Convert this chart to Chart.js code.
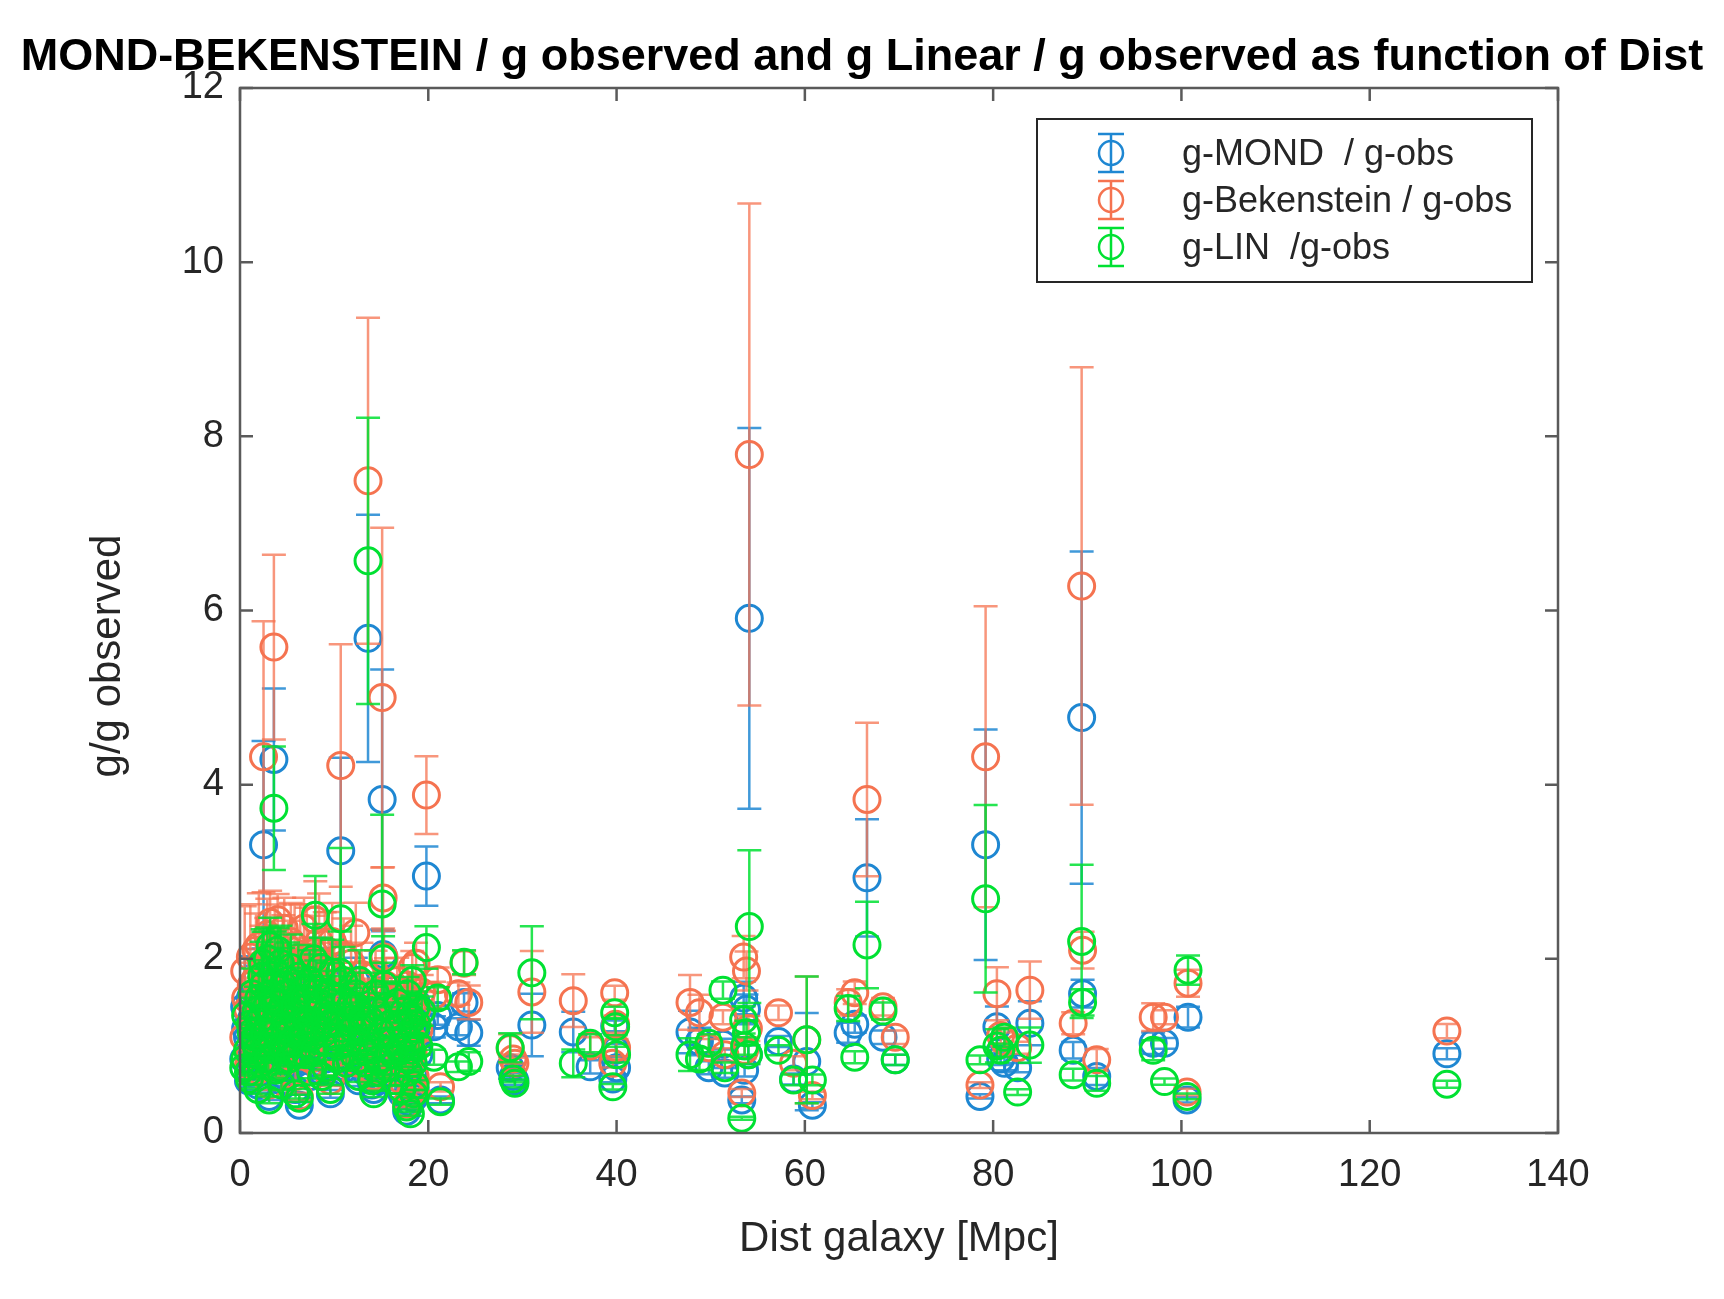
<!DOCTYPE html>
<html>
<head>
<meta charset="utf-8">
<title>MOND-BEKENSTEIN / g observed</title>
<script src="https://cdn.jsdelivr.net/npm/chart.js@4.4.1/dist/chart.umd.min.js"></script>
<style>
    html, body { margin: 0; padding: 0; background: #fff; }
    #chart-g-ratio { display: block; }
</style>
</head>
<body>
<canvas id="chart-g-ratio" width="1724" height="1299"></canvas>
<script>
// one entry per galaxy, same order in every array
// (last block: more galaxies of the crowded 0-20 Mpc group)
const dist = [
    0.4, 0.5, 0.8, 1.0, 1.2, 1.5, 1.7, 1.9, 2.1, 2.3,
    2.5, 2.7, 2.9, 3.1, 3.3, 3.5, 3.6, 3.8, 4.0, 4.2,
    4.4, 4.6, 4.8, 5.0, 5.2, 5.4, 5.7, 5.9, 6.1, 6.3,
    6.5, 6.8, 7.0, 7.2, 7.5, 7.8, 8.0, 8.2, 8.5, 8.7,
    9.0, 9.3, 9.6, 9.8, 10.2, 10.5, 10.7, 11.0, 11.3, 11.7,
    12.0, 12.3, 12.6, 12.9, 13.2, 13.5, 13.6, 14.0, 14.2, 14.5,
    14.8, 15.1, 15.2, 15.3, 15.6, 15.9, 16.3, 16.7, 17.2, 17.5,
    17.7, 17.8, 17.9, 18.0, 18.1, 18.2, 18.3, 18.4, 18.5, 18.6,
    18.7, 19.0, 19.3, 19.8,
    20.6, 21.0, 21.3, 23.2, 23.8, 24.3, 28.7, 29.0, 29.2, 31.0,
    35.4, 37.2, 39.6, 39.8, 39.9, 40.0, 47.8, 48.8, 49.8, 51.3,
    51.5, 53.3, 53.5, 53.6, 53.8, 54.0, 54.1, 57.2, 58.8, 60.2,
    60.8, 64.6, 65.3, 66.6, 68.3, 69.6, 78.6, 79.2, 80.4, 80.8,
    81.2, 82.6, 83.9, 88.5, 89.4, 89.5, 91.0, 97.0, 98.2, 100.6,
    100.7, 128.2,
    0.6, 0.9, 1.1, 1.3, 1.6, 1.8, 2.0, 2.2, 2.4, 2.6,
    2.8, 3.0, 3.2, 3.4, 3.7, 3.9, 4.1, 4.3, 4.5, 4.7,
    4.9, 5.1, 5.3, 5.5, 5.8, 6.0, 6.2, 6.4, 6.7, 6.9,
    7.1, 7.4, 7.6, 7.9, 8.1, 8.4, 8.6, 8.9, 9.1, 9.4,
    9.7, 10.0, 10.3, 10.6, 10.9, 11.2, 11.5, 11.8, 12.1, 12.4,
    12.7, 13.0, 13.3, 13.8, 14.1, 14.4, 14.7, 15.0, 15.5, 15.8,
    16.1, 16.5, 16.9, 17.1, 17.4, 17.6, 18.05, 18.25, 18.45, 18.8
];

const gMond = [
    0.85, 1.45, 1.10, 0.70, 1.30, 0.95, 1.60, 0.55, 1.25, 1.50,
    3.31, 0.90, 1.75, 0.42, 1.10, 1.40, 4.29, 0.80, 1.90, 1.20,
    0.60, 1.55, 1.00, 1.35, 0.75, 1.70, 1.15, 0.50, 1.45, 0.32,
    1.05, 1.80, 0.85, 1.25, 0.65, 1.60, 1.90, 1.00, 1.35, 0.70,
    1.50, 1.10, 0.45, 1.70, 1.20, 0.90, 3.24, 1.55, 0.75, 1.30,
    1.05, 1.75, 0.60, 1.40, 0.85, 1.15, 5.68, 0.55, 0.50, 1.25,
    0.90, 3.83, 2.05, 1.55, 0.70, 1.10, 0.80, 1.35, 0.45, 1.00,
    0.25, 1.30, 0.60, 1.15, 0.35, 0.85, 1.45, 0.70, 1.05, 0.50,
    1.50, 0.90, 1.25, 2.95,
    1.22, 1.35, 0.38, 1.22, 1.50, 1.15, 0.75, 0.65, 0.60, 1.24,
    1.16, 0.76, 0.62, 1.23, 0.95, 0.75, 1.16, 1.05, 0.75, 1.02,
    0.69, 0.38, 1.55, 0.72, 1.42, 0.90, 5.91, 1.05, 0.62, 0.82,
    0.32, 1.15, 1.25, 2.93, 1.10, 0.84, 0.42, 3.31, 1.22, 0.85,
    0.80, 0.75, 1.26, 0.95, 4.77, 1.60, 0.65, 1.03, 1.03, 0.38,
    1.33, 0.91,
    1.20, 0.60, 1.55, 0.95, 1.35, 0.85, 1.65, 0.70, 1.30, 1.05,
    1.45, 0.75, 1.85, 1.00, 1.60, 1.25, 0.65, 1.45, 1.10, 1.80,
    0.85, 1.50, 1.25, 0.95, 1.65, 0.80, 1.30, 1.55, 0.95, 1.20,
    1.55, 1.00, 1.35, 0.80, 1.25, 1.70, 1.05, 1.30, 0.85, 1.60,
    1.00, 1.40, 0.70, 1.35, 1.00, 1.20, 0.95, 1.50, 0.80, 1.20,
    1.00, 1.30, 0.70, 1.10, 0.80, 1.40, 0.60, 1.05, 1.30, 0.85,
    1.20, 0.55, 1.05, 0.85, 1.25, 0.70, 0.95, 1.20, 0.40, 1.10
];

const gBek = [
    1.10, 1.86, 1.42, 0.90, 1.70, 1.25, 2.10, 0.72, 1.62, 1.95,
    4.32, 1.18, 2.28, 0.55, 1.45, 1.82, 5.58, 1.05, 2.45, 1.55,
    0.78, 2.00, 1.30, 1.75, 0.98, 2.20, 1.50, 0.65, 1.90, 0.42,
    1.38, 2.35, 1.10, 1.62, 0.85, 2.08, 2.45, 1.30, 1.75, 0.92,
    1.95, 1.42, 0.60, 2.20, 1.58, 1.18, 4.22, 2.02, 0.98, 1.70,
    1.38, 2.30, 0.80, 1.82, 1.10, 1.50, 7.49, 0.72, 0.65, 1.62,
    1.18, 5.00, 2.70, 2.02, 0.92, 1.45, 1.05, 1.75, 0.60, 1.30,
    0.33, 1.70, 0.80, 1.50, 0.45, 1.10, 1.90, 0.92, 1.38, 0.65,
    1.95, 1.18, 1.62, 3.88,
    1.58, 1.76, 0.53, 1.60, 1.95, 1.50, 0.97, 0.85, 0.80, 1.62,
    1.52, 1.00, 0.80, 1.61, 1.25, 0.98, 1.50, 1.38, 0.98, 1.33,
    0.90, 0.46, 2.02, 0.95, 1.86, 1.20, 7.79, 1.38, 0.80, 1.07,
    0.43, 1.50, 1.61, 3.83, 1.45, 1.10, 0.55, 4.32, 1.60, 1.12,
    1.05, 0.98, 1.64, 1.26, 6.28, 2.10, 0.84, 1.33, 1.33, 0.47,
    1.72, 1.17,
    1.55, 0.78, 2.02, 1.24, 1.76, 1.10, 2.15, 0.92, 1.70, 1.38,
    1.90, 0.98, 2.42, 1.30, 2.10, 1.62, 0.85, 1.88, 1.43, 2.35,
    1.10, 1.95, 1.62, 1.24, 2.15, 1.05, 1.70, 2.02, 1.24, 1.56,
    2.02, 1.30, 1.76, 1.05, 1.62, 2.20, 1.38, 1.70, 1.10, 2.08,
    1.30, 1.82, 0.92, 1.76, 1.30, 1.56, 1.24, 1.95, 1.05, 1.56,
    1.30, 1.70, 0.92, 1.43, 1.05, 1.82, 0.80, 1.38, 1.70, 1.10,
    1.56, 0.72, 1.38, 1.10, 1.62, 0.92, 1.24, 1.56, 0.52, 1.43
];

const gLin = [
    0.75, 0.85, 0.95, 0.62, 1.15, 1.05, 1.40, 0.50, 1.30, 1.80,
    1.70, 1.00, 2.00, 0.38, 1.60, 1.25, 3.73, 0.72, 2.10, 1.40,
    0.55, 1.70, 1.20, 0.95, 0.85, 1.90, 1.35, 0.45, 1.55, 0.40,
    1.10, 1.65, 0.90, 1.45, 0.70, 2.00, 2.50, 1.20, 1.50, 0.65,
    1.30, 1.25, 0.50, 1.85, 1.10, 1.00, 2.46, 1.75, 0.80, 1.45,
    1.20, 1.60, 0.65, 1.30, 0.95, 1.05, 6.57, 0.60, 0.45, 1.40,
    0.85, 2.63, 2.00, 1.70, 0.75, 1.25, 0.90, 1.50, 0.50, 1.10,
    0.30, 1.60, 0.70, 1.35, 0.22, 0.95, 1.75, 0.80, 1.20, 0.55,
    1.45, 1.00, 1.40, 2.13,
    0.87, 1.55, 0.36, 0.76, 1.96, 0.82, 0.98, 0.62, 0.57, 1.84,
    0.80, 1.03, 0.53, 1.38, 1.22, 0.90, 0.90, 0.85, 1.03, 1.64,
    0.75, 0.17, 1.30, 1.00, 1.15, 0.90, 2.37, 0.95, 0.61, 1.07,
    0.61, 1.43, 0.87, 2.16, 1.40, 0.84, 0.84, 2.69, 1.00, 0.95,
    1.10, 0.47, 1.01, 0.67, 2.20, 1.50, 0.57, 0.95, 0.59, 0.42,
    1.87, 0.56,
    1.35, 0.70, 1.25, 1.60, 1.10, 0.95, 1.55, 0.80, 1.95, 1.15,
    1.45, 0.85, 2.15, 1.05, 1.85, 1.50, 0.75, 1.95, 1.00, 1.60,
    1.30, 1.75, 1.15, 1.05, 1.45, 0.90, 1.80, 1.25, 1.15, 1.55,
    1.30, 1.75, 1.10, 0.95, 1.65, 1.40, 1.90, 1.15, 0.75, 1.60,
    1.35, 1.55, 0.85, 1.85, 1.20, 1.50, 1.05, 1.30, 0.90, 1.45,
    1.75, 1.20, 0.80, 1.30, 0.95, 1.60, 0.70, 1.15, 1.45, 0.95,
    1.05, 0.60, 1.25, 0.95, 1.40, 0.85, 1.05, 1.30, 0.45, 1.25
];

// relative error of each galaxy (same for the three ratios)
const relErr = [
    0.12, 0.40, 0.20, 0.10, 0.15, 0.18, 0.20, 0.10, 0.25, 0.22,
    0.36, 0.15, 0.18, 0.10, 0.20, 0.30, 0.19, 0.12, 0.12, 0.20,
    0.10, 0.25, 0.15, 0.18, 0.10, 0.20, 0.22, 0.12, 0.18, 0.10,
    0.20, 0.15, 0.12, 0.25, 0.10, 0.20, 0.18, 0.15, 0.20, 0.12,
    0.30, 0.15, 0.10, 0.20, 0.18, 0.12, 0.33, 0.22, 0.10, 0.15,
    0.25, 0.15, 0.10, 0.20, 0.12, 0.18, 0.25, 0.10, 0.08, 0.20,
    0.15, 0.39, 0.13, 0.15, 0.10, 0.20, 0.12, 0.15, 0.10, 0.10,
    0.10, 0.12, 0.08, 0.10, 0.10, 0.10, 0.10, 0.10, 0.08, 0.10,
    0.12, 0.10, 0.12, 0.115,
    0.10, 0.08, 0.10, 0.08, 0.07, 0.13, 0.17, 0.06, 0.08, 0.29,
    0.20, 0.10, 0.06, 0.05, 0.08, 0.10, 0.21, 0.15, 0.10, 0.06,
    0.08, 0.10, 0.12, 0.10, 0.12, 0.12, 0.37, 0.06, 0.10, 0.68,
    0.10, 0.10, 0.08, 0.23, 0.07, 0.07, 0.06, 0.40, 0.19, 0.08,
    0.10, 0.07, 0.20, 0.10, 0.40, 0.10, 0.15, 0.12, 0.06, 0.08,
    0.09, 0.07,
    0.15, 0.12, 0.30, 0.18, 0.20, 0.15, 0.28, 0.12, 0.20, 0.25,
    0.30, 0.15, 0.15, 0.20, 0.25, 0.30, 0.10, 0.22, 0.18, 0.15,
    0.20, 0.25, 0.20, 0.15, 0.22, 0.12, 0.20, 0.30, 0.15, 0.20,
    0.28, 0.20, 0.25, 0.15, 0.20, 0.25, 0.18, 0.20, 0.12, 0.22,
    0.18, 0.20, 0.12, 0.25, 0.18, 0.20, 0.15, 0.22, 0.12, 0.18,
    0.20, 0.15, 0.12, 0.18, 0.12, 0.15, 0.10, 0.15, 0.18, 0.12,
    0.15, 0.10, 0.12, 0.10, 0.10, 0.10, 0.08, 0.08, 0.10, 0.10
];

const seriesLabels = ['g-MOND  / g-obs', 'g-Bekenstein / g-obs', 'g-LIN  /g-obs'];
const xTicks = [0, 20, 40, 60, 80, 100, 120, 140];
const yTicks = [0, 2, 4, 6, 8, 10, 12];

const colMond = 'rgb(30, 135, 210)';
const colBek = 'rgb(245, 115, 80)';
const colLin = 'rgb(0, 225, 50)';
const barMond = 'rgba(30, 135, 210, 0.85)';
const barBek = 'rgba(245, 115, 80, 0.75)';
const barLin = 'rgba(0, 225, 50, 0.85)';
const axisColor = 'rgb(90, 90, 90)';
const textColor = '#262626';
const fontFamily = 'Arial, "Liberation Sans", Helvetica, sans-serif';

const chartElement = document.getElementById('chart-g-ratio');
let chartRatio;

function makePoints(values) {
    return dist.map(function (d, i) {
        return { x: d, y: values[i], err: values[i] * relErr[i] };
    });
}

// vertical error bars, drawn just before the markers of the same series
const errorBarPlugin = {
    id: 'errorBars',
    beforeDatasetDraw(chart, args) {
        const ds = chart.data.datasets[args.index];
        const yScale = chart.scales.y;
        const ctx = chart.ctx;
        const area = chart.chartArea;
        const cap = 12;
        ctx.save();
        ctx.beginPath();
        ctx.rect(area.left, area.top, area.right - area.left, area.bottom - area.top);
        ctx.clip();
        ctx.strokeStyle = ds.barColor;
        ctx.lineWidth = 2.5;
        args.meta.data.forEach(function (pt, i) {
            const d = ds.data[i];
            const top = yScale.getPixelForValue(d.y + d.err);
            const bottom = yScale.getPixelForValue(d.y - d.err);
            ctx.beginPath();
            ctx.moveTo(pt.x, top);
            ctx.lineTo(pt.x, bottom);
            ctx.moveTo(pt.x - cap, top);
            ctx.lineTo(pt.x + cap, top);
            ctx.moveTo(pt.x - cap, bottom);
            ctx.lineTo(pt.x + cap, bottom);
            ctx.stroke();
        });
        ctx.restore();
    }
};

// matlab style box with inward ticks, y title and boxed legend
const axesBoxPlugin = {
    id: 'axesBox',
    afterDatasetsDraw(chart) {
        const ctx = chart.ctx;
        const a = chart.chartArea;
        const xs = chart.scales.x;
        const ys = chart.scales.y;
        const tickLen = 13;
        ctx.save();
        ctx.strokeStyle = axisColor;
        ctx.lineWidth = 2.5;
        ctx.strokeRect(a.left, a.top, a.right - a.left, a.bottom - a.top);
        ctx.beginPath();
        xTicks.forEach(function (v) {
            const px = xs.getPixelForValue(v);
            ctx.moveTo(px, a.bottom);
            ctx.lineTo(px, a.bottom - tickLen);
            ctx.moveTo(px, a.top);
            ctx.lineTo(px, a.top + tickLen);
        });
        yTicks.forEach(function (v) {
            const py = ys.getPixelForValue(v);
            ctx.moveTo(a.left, py);
            ctx.lineTo(a.left + tickLen, py);
            ctx.moveTo(a.right, py);
            ctx.lineTo(a.right - tickLen, py);
        });
        ctx.stroke();
        ctx.restore();
    },
    afterDraw(chart) {
        const ctx = chart.ctx;
        const a = chart.chartArea;

        ctx.save();
        ctx.translate(108, 656);
        ctx.rotate(-Math.PI / 2);
        ctx.font = '42px ' + fontFamily;
        ctx.fillStyle = textColor;
        ctx.textAlign = 'center';
        ctx.textBaseline = 'middle';
        ctx.fillText('g/g observed', 0, 0);
        ctx.restore();

        const boxW = 495, boxH = 163;
        const bx = a.right - 26 - boxW;
        const by = a.top + 31;
        const colors = [colMond, colBek, colLin];
        ctx.save();
        ctx.fillStyle = '#fff';
        ctx.fillRect(bx, by, boxW, boxH);
        ctx.strokeStyle = textColor;
        ctx.lineWidth = 2;
        ctx.strokeRect(bx, by, boxW, boxH);
        ctx.font = '36px ' + fontFamily;
        ctx.textBaseline = 'middle';
        ctx.textAlign = 'left';
        seriesLabels.forEach(function (label, i) {
            const cy = by + 34 + i * 47;
            const cx = bx + 74;
            ctx.strokeStyle = colors[i];
            ctx.lineWidth = 2.5;
            ctx.beginPath();
            ctx.moveTo(cx, cy - 19);
            ctx.lineTo(cx, cy + 19);
            ctx.moveTo(cx - 13, cy - 19);
            ctx.lineTo(cx + 13, cy - 19);
            ctx.moveTo(cx - 13, cy + 19);
            ctx.lineTo(cx + 13, cy + 19);
            ctx.stroke();
            ctx.beginPath();
            ctx.arc(cx, cy, 12, 0, Math.PI * 2);
            ctx.stroke();
            ctx.fillStyle = textColor;
            ctx.fillText(label, bx + 145, cy + 2);
        });
        ctx.restore();
    }
};

function makeDataset(label, values, color, barColor, order) {
    return {
        label: label,
        data: makePoints(values),
        borderColor: color,
        backgroundColor: 'rgba(0,0,0,0)',
        barColor: barColor,
        pointStyle: 'circle',
        pointRadius: 13,
        pointHoverRadius: 13,
        borderWidth: 3,
        showLine: false,
        clip: false,
        order: order
    };
}

function initChart_Ratio() {
    const tickFont = { family: fontFamily, size: 38 };
    chartRatio = new Chart(chartElement, {
        type: 'scatter',
        data: {
            datasets: [
                makeDataset(seriesLabels[0], gMond, colMond, barMond, 3),
                makeDataset(seriesLabels[1], gBek, colBek, barBek, 2),
                makeDataset(seriesLabels[2], gLin, colLin, barLin, 1)
            ]
        },
        options: {
            responsive: false,
            animation: false,
            devicePixelRatio: 1,
            layout: {
                padding: { left: 0, right: 0, top: 0, bottom: 0 }
            },
            scales: {
                x: {
                    type: 'linear',
                    min: 0,
                    max: 140,
                    afterBuildTicks: function (s) { s.ticks = xTicks.map(v => ({ value: v })); },
                    afterFit: function (s) { s.height = 166; },
                    ticks: { color: textColor, font: tickFont, padding: 20, maxRotation: 0 },
                    grid: { display: false, drawTicks: false },
                    border: { display: false },
                    title: {
                        display: true,
                        text: 'Dist galaxy [Mpc]',
                        color: textColor,
                        font: { family: fontFamily, size: 42 },
                        padding: { top: 0, bottom: 34 }
                    }
                },
                y: {
                    type: 'linear',
                    min: 0,
                    max: 12,
                    afterBuildTicks: function (s) { s.ticks = yTicks.map(v => ({ value: v })); },
                    afterFit: function (s) { s.width = 240; },
                    ticks: { color: textColor, font: tickFont, padding: 16 },
                    grid: { display: false, drawTicks: false },
                    border: { display: false }
                },
                yRight: {
                    type: 'linear',
                    position: 'right',
                    min: 0,
                    max: 12,
                    afterFit: function (s) { s.width = 166; },
                    ticks: { display: false },
                    grid: { display: false, drawTicks: false },
                    border: { display: false }
                }
            },
            plugins: {
                legend: { display: false },
                tooltip: { enabled: false },
                title: {
                    display: true,
                    text: 'MOND-BEKENSTEIN / g observed and g Linear / g observed as function of Dist',
                    color: '#000',
                    font: { family: fontFamily, size: 45, weight: 'bold' },
                    padding: { top: 31, bottom: 3 }
                }
            }
        },
        plugins: [errorBarPlugin, axesBoxPlugin]
    });
}

initChart_Ratio();
</script>
</body>
</html>
